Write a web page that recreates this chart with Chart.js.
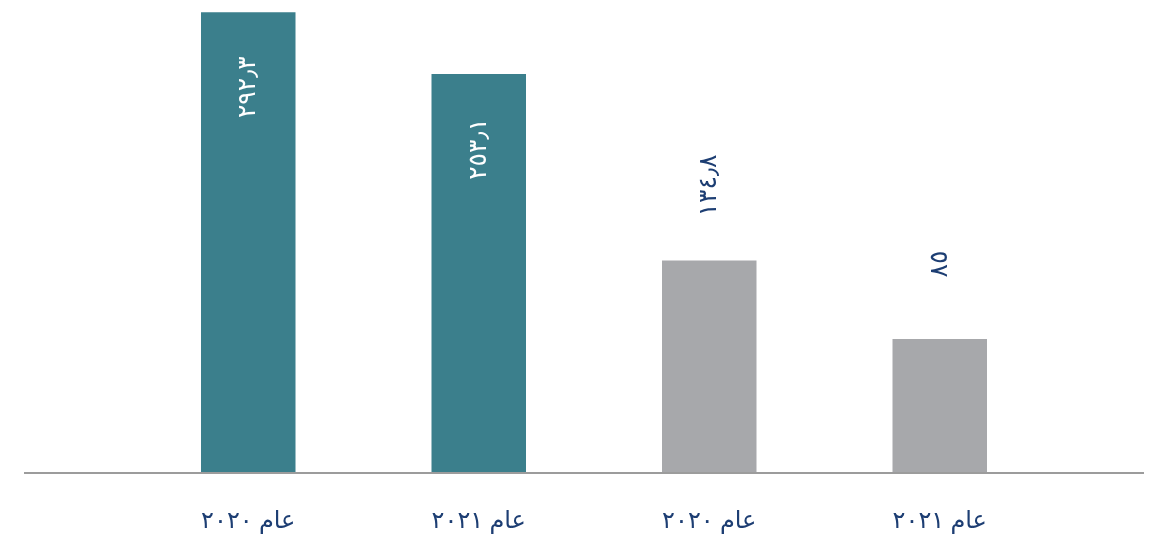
<!DOCTYPE html>
<html>
<head>
<meta charset="utf-8">
<script src="https://cdn.jsdelivr.net/npm/chart.js@4/dist/chart.umd.min.js"></script>
<style>
  html, body { margin: 0; padding: 0; background: #fff; }
  #wrap { width: 1150px; height: 535px; }
</style>
</head>
<body>
<div id="wrap"><canvas id="barChart" width="1150" height="535"></canvas></div>
<script>
const categories = ['عام ٢٠٢٠', 'عام ٢٠٢١', 'عام ٢٠٢٠', 'عام ٢٠٢١'];
const values = [292.3, 253.1, 134.8, 85];
const barColors = ['#3b7f8c', '#3b7f8c', '#a7a8ab', '#a7a8ab'];
const labelInside = [true, true, false, false];

const NAVY = '#1d3e73';
const FONT = "'Noto Sans', 'DejaVu Sans', sans-serif";

function toArabicDigits(v) {
  return String(v).replace(/[0-9]/g, d => '٠١٢٣٤٥٦٧٨٩'[d]).replace('.', '٫');
}

/* baseline + rotated value labels */
const valueLabels = {
  id: 'valueLabels',
  afterDatasetsDraw(chart) {
    const ctx = chart.ctx;
    const y0 = chart.scales.y.getPixelForValue(0);
    ctx.save();
    ctx.strokeStyle = '#9c9c9c';
    ctx.lineWidth = 2;
    ctx.beginPath();
    ctx.moveTo(24, y0);
    ctx.lineTo(1144, y0);
    ctx.stroke();

    chart.getDatasetMeta(0).data.forEach((bar, i) => {
      const cy = labelInside[i] ? bar.y + 75 : bar.y - 75;
      ctx.save();
      ctx.translate(bar.x, cy);
      ctx.rotate(-Math.PI / 2);
      ctx.font = '25px ' + FONT;
      ctx.fillStyle = labelInside[i] ? '#ffffff' : NAVY;
      ctx.textAlign = 'center';
      ctx.textBaseline = 'middle';
      ctx.fillText(toArabicDigits(values[i]), 0, 0);
      ctx.restore();
    });
    ctx.restore();
  }
};

new Chart(document.getElementById('barChart'), {
  type: 'bar',
  data: {
    labels: categories,
    datasets: [{
      data: values,
      backgroundColor: barColors,
      barPercentage: 0.41,
      categoryPercentage: 1
    }]
  },
  options: {
    responsive: false,
    animation: false,
    layout: { padding: { left: 133, right: 95, top: 0, bottom: 0 } },
    plugins: {
      legend: { display: false },
      tooltip: { enabled: false }
    },
    scales: {
      x: {
        grid: { display: false },
        border: { display: false },
        afterFit(scale) { scale.height = 62; },
        ticks: {
          color: NAVY,
          font: { size: 24, family: FONT },
          padding: 26,
          maxRotation: 0
        }
      },
      y: {
        display: false,
        min: 0,
        max: 300
      }
    }
  },
  plugins: [valueLabels]
});
</script>
</body>
</html>
